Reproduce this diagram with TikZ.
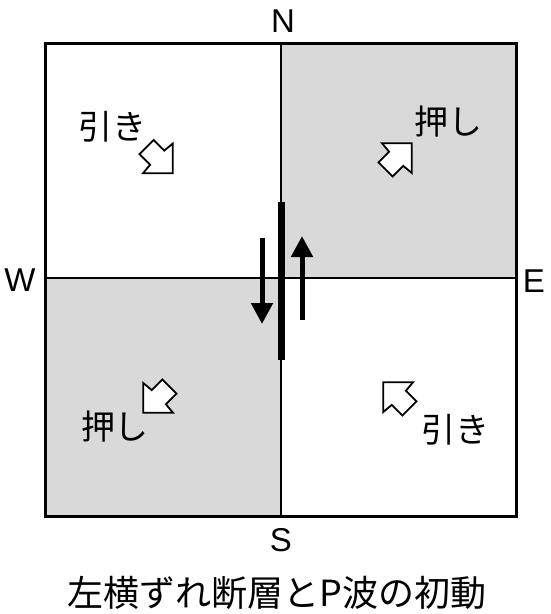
\documentclass[tikz,border=0pt]{standalone}
\usepackage{fontspec}
\setmainfont{Liberation Sans}
\newfontfamily\jpfont{Noto Sans CJK JP}
\usetikzlibrary{arrows.meta}
\definecolor{quadgray}{RGB}{217,217,217}
\tikzset{
  lbl/.style={font=\fontsize{33}{36}\selectfont, inner sep=0pt},
  jlbl/.style={font=\jpfont\fontsize{34}{38}\selectfont, inner sep=0pt},
  blockarrow/.style={draw=black, line width=1.8pt, fill=white, line join=miter},
  slip/.style={line width=5pt, -{Triangle[length=21pt,width=21pt]}},
}
\begin{document}
\begin{tikzpicture}[x=1pt,y=-1pt]
\useasboundingbox (0,0) rectangle (550,614);
% gray quadrants
\fill[quadgray] (281,43) rectangle (516,278);
\fill[quadgray] (45,278) rectangle (281,516);
% axes
\draw[line width=2pt] (281,43) -- (281,516);
\draw[line width=2pt] (45,278) -- (516,278);
\draw[line width=3pt] (45,43) rectangle (516,516);
% fault
\draw[line width=7pt] (281,202) -- (281,360);
% slip arrows
\coordinate (dA) at (262,238);
\coordinate (dB) at (262,324);
\coordinate (uA) at (302,320);
\coordinate (uB) at (302,236);
\draw[slip] (dA) -- (dB);
\draw[slip] (uA) -- (uB);
% block arrows
\foreach \cx/\cy/\ang/\nm in {160/160.5/-45/nw, 399/156/45/ne, 156/400/-135/sw, 396/395/135/se}{
  \begin{scope}[shift={(\cx,\cy)}, rotate=\ang]
    \draw[blockarrow] (18,0) -- (-3,21) -- (-4,10) -- (-19,10) -- (-19,-10) -- (-4,-10) -- (-3,-21) -- cycle;
  \end{scope}
}
% direction labels
\node[lbl] (N) at (283,21) {N};
\node[lbl] (S) at (281,540) {S};
\node[lbl] (W) at (20,280) {W};
\node[lbl] (E) at (534,281) {E};
% quadrant labels
\node[jlbl] (t1) at (112,127) {引き};
\node[jlbl] (t2) at (448,122) {押し};
\node[jlbl] (t3) at (115,427) {押し};
\node[jlbl] (t4) at (455,430) {引き};
% caption
\node[font=\jpfont\fontsize{36}{40}\selectfont, inner sep=0pt] (cap) at (277,593) {左横ずれ断層とP波の初動};
\end{tikzpicture}
\end{document}
